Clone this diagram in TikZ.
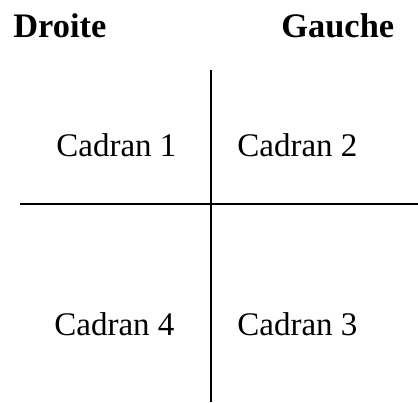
\documentclass[tikz,border=0pt]{standalone}
\usepackage{fontspec}
\setmainfont{Liberation Serif}
\tikzset{
    label/.style={anchor=base west, inner sep=0pt, font=\fontsize{16.5}{20}\selectfont},
    side/.style={label, font=\fontsize{17.2}{20}\selectfont\bfseries},
    axe/.style={line width=1pt, black}
}
\begin{document}
\begin{tikzpicture}[x=0.5pt, y=-0.5pt]
    \useasboundingbox (0,0) rectangle (418,402);

    \node[side] (droite) at (13,37) {Droite};
    \node[side] (gauche) at (281,37) {Gauche};

    \coordinate (haut) at (211,70);
    \coordinate (bas) at (211,402);
    \coordinate (gau) at (20,204);
    \coordinate (dro) at (418,204);
    \draw[axe] (haut) -- (bas);
    \draw[axe] (gau) -- (dro);

    \node[label] (c1) at (56,156) {Cadran 1};
    \node[label] (c2) at (237,156) {Cadran 2};
    \node[label] (c4) at (54,335) {Cadran 4};
    \node[label] (c3) at (237,335) {Cadran 3};
\end{tikzpicture}
\end{document}
